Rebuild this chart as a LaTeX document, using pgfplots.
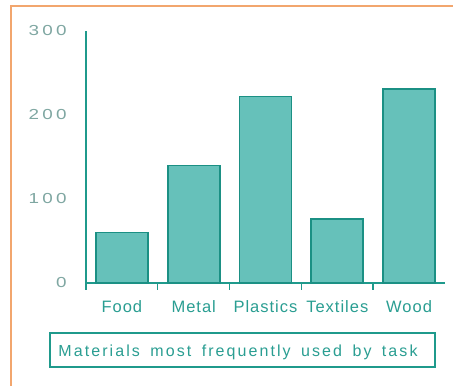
\documentclass[border=0pt]{standalone}
\usepackage{fontspec}
\setmainfont{Liberation Sans}
\newfontfamily\catfont[LetterSpace=6]{Liberation Sans}
\newfontfamily\capfont[LetterSpace=13,WordSpace=1.6]{Liberation Sans}
\usepackage{graphicx}
\usepackage{pgfplots}
\pgfplotsset{compat=1.18}

\definecolor{framec}{HTML}{F2A66E}
\definecolor{axisc}{HTML}{1F9A8C}
\definecolor{barfill}{HTML}{66C1BA}
\definecolor{barline}{HTML}{1B9084}
\definecolor{numc}{HTML}{7FA7A2}
\definecolor{labc}{HTML}{2A9E92}

% wide, spaced tick numbers
\newcommand\tn[1]{\scalebox{1.3}[1]{#1}}
\newcommand\dsp{\kern2.5pt}

\begin{document}
\begin{tikzpicture}[x=1pt,y=1pt]
\fill[white] (0,0) rectangle (453,386);
\useasboundingbox (0,0) rectangle (453,386);
% outer frame
\draw[framec, line width=2.2pt] (11,0) -- (11,380) -- (453,380);

\begin{axis}[
  at={(86pt,103pt)}, anchor=south west,
  scale only axis, width=359pt, height=252pt,
  xmin=-0.5, xmax=4.5, ymin=0, ymax=300,
  axis x line=bottom, axis y line=left,
  axis line style={-, draw=axisc, line width=1.3pt},
  xtick={0,1,2,3,4},
  xticklabels={Food,Metal,Plastics,Textiles,Wood},
  minor xtick={-0.5,0.5,1.5,2.5,3.5},
  ytick={0,100,200,300},
  yticklabels={\tn{0},\tn{1\dsp0\dsp0},\tn{2\dsp0\dsp0},\tn{3\dsp0\dsp0}},
  major tick style={draw=none},
  minor tick style={draw=axisc, line width=1.4pt},
  minor tick length=7pt,
  tick align=outside,
  xticklabel style={font=\catfont\fontsize{16.5}{18}\selectfont, text=labc, anchor=base, yshift=-25pt, inner sep=0pt},
  yticklabel style={font=\fontsize{14.5}{16}\selectfont, text=numc, anchor=east, xshift=-15pt, inner sep=0pt},
  clip=false,
]
\addplot[ybar, bar width=52pt, fill=barfill, draw=barline, line width=1.7pt]
  coordinates {(0,60) (1,140) (2,222) (3,76) (4,231)};
\end{axis}

% caption box
\draw[axisc, line width=1.4pt] (50,19) rectangle (435,53);
\node[anchor=base, inner sep=0pt, text=labc, font=\capfont\fontsize{16}{18}\selectfont] at (238,29) {Materials most frequently used by task};
\end{tikzpicture}
\end{document}
